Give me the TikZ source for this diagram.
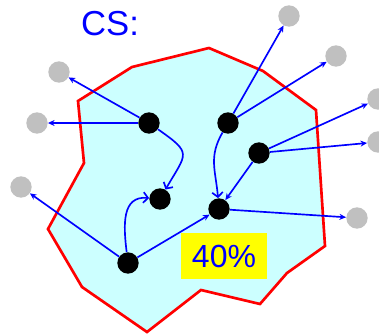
\documentclass[tikz,border=0pt]{standalone}
\usepackage{fontspec}
\setmainfont{Liberation Sans}
\usetikzlibrary{arrows.meta}
\definecolor{regionfill}{RGB}{204,255,255}
\definecolor{borderred}{RGB}{255,0,0}
\definecolor{linkblue}{RGB}{0,0,255}
\definecolor{outergray}{RGB}{192,192,192}
\definecolor{tagyellow}{RGB}{255,255,0}

\begin{document}
\begin{tikzpicture}[x=0.75pt, y=-0.75pt,
  member/.style={circle, fill=black, minimum size=16pt, inner sep=0pt},
  outsider/.style={circle, fill=outergray, minimum size=16pt, inner sep=0pt},
  link/.style={-{Stealth[length=5pt, width=4.5pt]}, draw=linkblue, line width=1.25pt},
  hop/.style={-{Straight Barb[length=3.5pt, width=8pt]}, draw=linkblue, line width=1.25pt}]
  \useasboundingbox (0,0) rectangle (379,336);

  % the region
  \draw[borderred, fill=regionfill, line width=2pt, line join=miter]
    (132,67) -- (209,48) -- (263,71) -- (316,110) -- (325,246) -- (287,273)
    -- (260,304) -- (201,290) -- (147,332) -- (82,287) -- (48,229)
    -- (84,163) -- (78,101) -- cycle;

  \node[text=linkblue, font=\fontsize{26}{28}\selectfont] (title) at (110,24) {CS:};
  \node[fill=tagyellow, text=linkblue, minimum width=64.5pt, minimum height=34pt,
        inner sep=0pt, font=\fontsize{24}{26}\selectfont] (share) at (224,256) {40\%};

  % nodes inside
  \node[member] (a) at (149,123) {};
  \node[member] (b) at (228,123) {};
  \node[member] (c) at (259,153) {};
  \node[member] (d) at (160,199) {};
  \node[member] (e) at (219,209) {};
  \node[member] (f) at (128,263) {};

  % nodes outside
  \node[outsider] (g1) at (289,16) {};
  \node[outsider] (g2) at (336,56) {};
  \node[outsider] (g3) at (378,99) {};
  \node[outsider] (g4) at (378,142) {};
  \node[outsider] (g5) at (357,218) {};
  \node[outsider] (g6) at (59,72) {};
  \node[outsider] (g7) at (37,123) {};
  \node[outsider] (g8) at (21,187) {};

  \draw[link] (a) -- (g6);
  \draw[link] (a) -- (g7);
  \draw[link] (b) -- (g1);
  \draw[link] (b) -- (g2);
  \draw[link] (c) -- (g3);
  \draw[link] (c) -- (g4);
  \draw[link] (c) -- (e);
  \draw[link] (e) -- (g5);
  \draw[link] (f) -- (g8);
  \draw[link] (f) -- (e);
  \draw[hop] (a) to[out=-35, in=60, looseness=1.8] (d);
  \draw[hop] (b) to[out=-120, in=95, looseness=1.1] (e);
  \draw[hop] (f) to[out=97, in=175, looseness=1.2] (d);
\end{tikzpicture}
\end{document}
